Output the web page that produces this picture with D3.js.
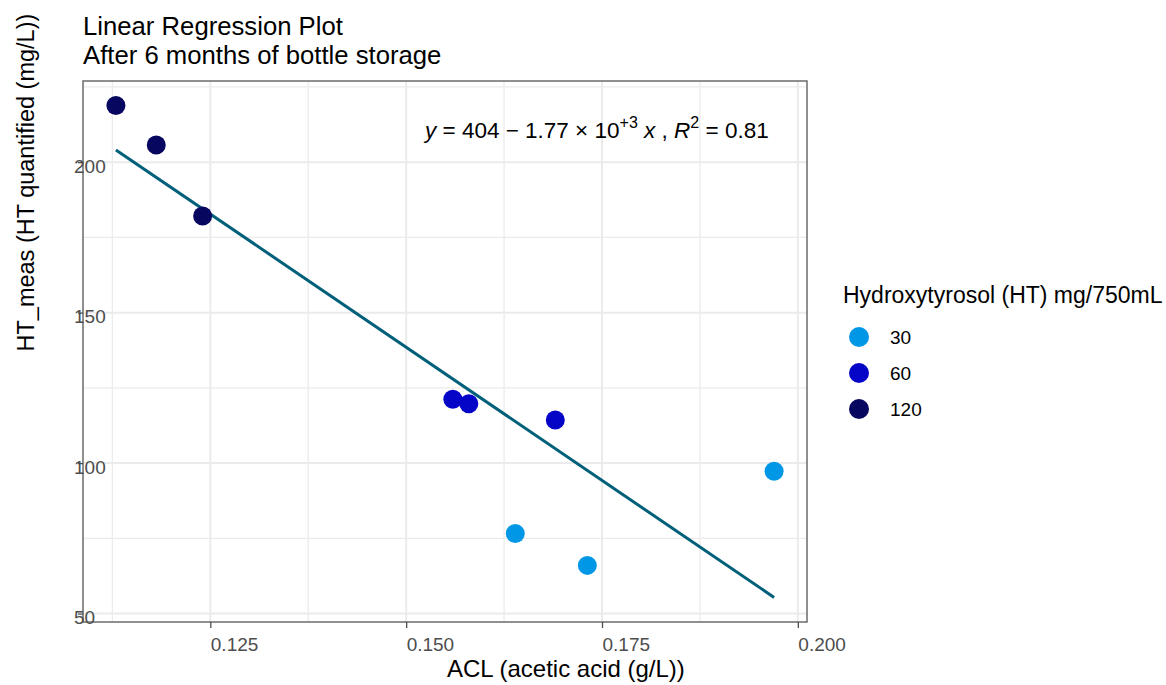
<!DOCTYPE html>
<html lang="en">
<head>
    <meta charset="UTF-8">
    <title>Linear Regression Plot</title>
    <script src="https://cdn.jsdelivr.net/npm/d3@7"></script>
    <style>
        body { margin: 0; background: #fff; }
        svg { font-family: "Liberation Sans", Arial, sans-serif; }
    </style>
</head>
<body>
    <div id="chart-space"></div>

    <script>
        // values
        var acl = [0.11295, 0.11810, 0.12402, 0.15596, 0.15800, 0.16904, 0.16393, 0.17313, 0.19697];
        var htMeas = [218.8, 205.7, 182.1, 121.2, 119.7, 114.3, 76.6, 66.0, 97.3];
        var htDose = [120, 120, 120, 60, 60, 60, 30, 30, 30];

        var doseLevels = [30, 60, 120];
        var doseColors = ["#0098e6", "#0505c8", "#07075f"];

        var xTicks = [0.125, 0.150, 0.175, 0.200];
        var xMinor = [0.1125, 0.1375, 0.1625, 0.1875];
        var yTicks = [50, 100, 150, 200];
        var yMinor = [75, 125, 175, 225];

        // fitted line: y = 404 - 1.77e3 x
        var fitCoef = [404, -1770];
        var r2 = 0.81;

        var width = 1166, height = 685;
        var panel = {left: 83, right: 807, top: 81, bottom: 622};

        var svg = d3.select("#chart-space")
            .append("svg")
            .attr("width", width)
            .attr("height", height);

        var xExt = d3.extent(acl);
        var fitY = xExt.map(function(x) { return fitCoef[0] + fitCoef[1] * x; });
        var yExt = d3.extent(htMeas.concat(fitY));
        var xPad = (xExt[1] - xExt[0]) * 0.05;
        var yPad = (yExt[1] - yExt[0]) * 0.05;

        var xScale = d3.scaleLinear()
            .domain([xExt[0] - xPad, xExt[1] + xPad])
            .range([panel.left, panel.right]);

        var yScale = d3.scaleLinear()
            .domain([yExt[0] - yPad, yExt[1] + yPad])
            .range([panel.bottom, panel.top]);

        var color = d3.scaleOrdinal().domain(doseLevels).range(doseColors);

        // grid lines
        var grid = svg.append("g");
        grid.selectAll(".vminor").data(xMinor).join("line")
            .attr("x1", function(d) { return xScale(d); })
            .attr("x2", function(d) { return xScale(d); })
            .attr("y1", panel.top).attr("y2", panel.bottom)
            .attr("stroke", "#ebebeb").attr("stroke-width", 1.3);
        grid.selectAll(".hminor").data(yMinor).join("line")
            .attr("y1", function(d) { return yScale(d); })
            .attr("y2", function(d) { return yScale(d); })
            .attr("x1", panel.left).attr("x2", panel.right)
            .attr("stroke", "#ebebeb").attr("stroke-width", 1.3);
        grid.selectAll(".vmajor").data(xTicks).join("line")
            .attr("x1", function(d) { return xScale(d); })
            .attr("x2", function(d) { return xScale(d); })
            .attr("y1", panel.top).attr("y2", panel.bottom)
            .attr("stroke", "#ebebeb").attr("stroke-width", 2);
        grid.selectAll(".hmajor").data(yTicks).join("line")
            .attr("y1", function(d) { return yScale(d); })
            .attr("y2", function(d) { return yScale(d); })
            .attr("x1", panel.left).attr("x2", panel.right)
            .attr("stroke", "#ebebeb").attr("stroke-width", 2);

        // regression line
        svg.append("line")
            .attr("x1", xScale(xExt[0])).attr("y1", yScale(fitY[0]))
            .attr("x2", xScale(xExt[1])).attr("y2", yScale(fitY[1]))
            .attr("stroke", "#005f79")
            .attr("stroke-width", 3);

        // points
        svg.selectAll(".pt").data(acl).join("circle")
            .attr("cx", function(d) { return xScale(d); })
            .attr("cy", function(d, i) { return yScale(htMeas[i]); })
            .attr("r", 9.5)
            .attr("fill", function(d, i) { return color(htDose[i]); });

        // panel border
        svg.append("rect")
            .attr("x", panel.left).attr("y", panel.top)
            .attr("width", panel.right - panel.left)
            .attr("height", panel.bottom - panel.top)
            .attr("fill", "none")
            .attr("stroke", "#6b6b6b")
            .attr("stroke-width", 1.5);

        // x axis
        var xAxis = svg.append("g")
            .attr("transform", "translate(0," + panel.bottom + ")")
            .call(d3.axisBottom(xScale).tickValues(xTicks).tickSize(6).tickFormat(d3.format(".3f")));
        xAxis.select(".domain").remove();
        xAxis.selectAll("line").attr("stroke", "#4d4d4d").attr("stroke-width", 1.3);
        xAxis.selectAll("text")
            .attr("text-anchor", "start")
            .attr("y", 29).attr("dy", null)
            .attr("fill", "#4d4d4d")
            .style("font-size", "19px")
            .style("font-family", "'Liberation Sans', Arial, sans-serif");

        // y axis
        var yAxis = svg.append("g")
            .attr("transform", "translate(" + panel.left + ",0)")
            .call(d3.axisLeft(yScale).tickValues(yTicks).tickSize(5));
        yAxis.select(".domain").remove();
        yAxis.selectAll("line").attr("stroke", "#4d4d4d").attr("stroke-width", 1.3);
        yAxis.selectAll("text")
            .attr("text-anchor", "start")
            .attr("x", -9).attr("dy", null).attr("y", 10)
            .attr("fill", "#4d4d4d")
            .style("font-size", "19px")
            .style("font-family", "'Liberation Sans', Arial, sans-serif");

        // axis titles
        svg.append("text")
            .attr("x", (panel.left + panel.right) / 2 + 2)
            .attr("y", 677)
            .style("font-size", "24px")
            .text("ACL (acetic acid (g/L))");

        svg.append("text")
            .attr("transform", "translate(34," + ((panel.top + panel.bottom) / 2) + ") rotate(-90)")
            .style("font-size", "23.5px")
            .text("HT_meas (HT quantified (mg/L))");

        // title
        svg.append("text").attr("x", 83).attr("y", 35)
            .style("font-size", "25.7px").text("Linear Regression Plot");
        svg.append("text").attr("x", 83).attr("y", 64)
            .style("font-size", "25.7px").text("After 6 months of bottle storage");

        // equation label
        var eq = svg.append("text")
            .attr("x", 425).attr("y", 138)
            .style("font-size", "22.5px");
        eq.append("tspan").style("font-style", "italic").text("y");
        eq.append("tspan").text(" = " + fitCoef[0] + " \u2212 " + d3.format(".2f")(-fitCoef[1] / 1000) + " \u00d7 10");
        eq.append("tspan").attr("dy", -10).style("font-size", "16px").text("+3");
        eq.append("tspan").attr("dy", 10).text(" ");
        eq.append("tspan").style("font-style", "italic").text("x");
        eq.append("tspan").text(" , ");
        eq.append("tspan").style("font-style", "italic").text("R");
        eq.append("tspan").attr("dy", -10).style("font-size", "16px").text("2");
        eq.append("tspan").attr("dy", 10).text(" = " + r2.toFixed(2));

        // legend
        var legend = svg.append("g");
        legend.append("text")
            .attr("x", 843).attr("y", 303)
            .style("font-size", "23px")
            .text("Hydroxytyrosol (HT) mg/750mL");
        var items = legend.selectAll(".item").data(doseLevels).join("g")
            .attr("transform", function(d, i) { return "translate(859," + (337 + i * 36) + ")"; });
        items.append("circle").attr("r", 10).attr("fill", function(d) { return color(d); });
        items.append("text")
            .attr("x", 31).attr("y", 7)
            .style("font-size", "19px")
            .text(function(d) { return d; });
    </script>
</body>
</html>
